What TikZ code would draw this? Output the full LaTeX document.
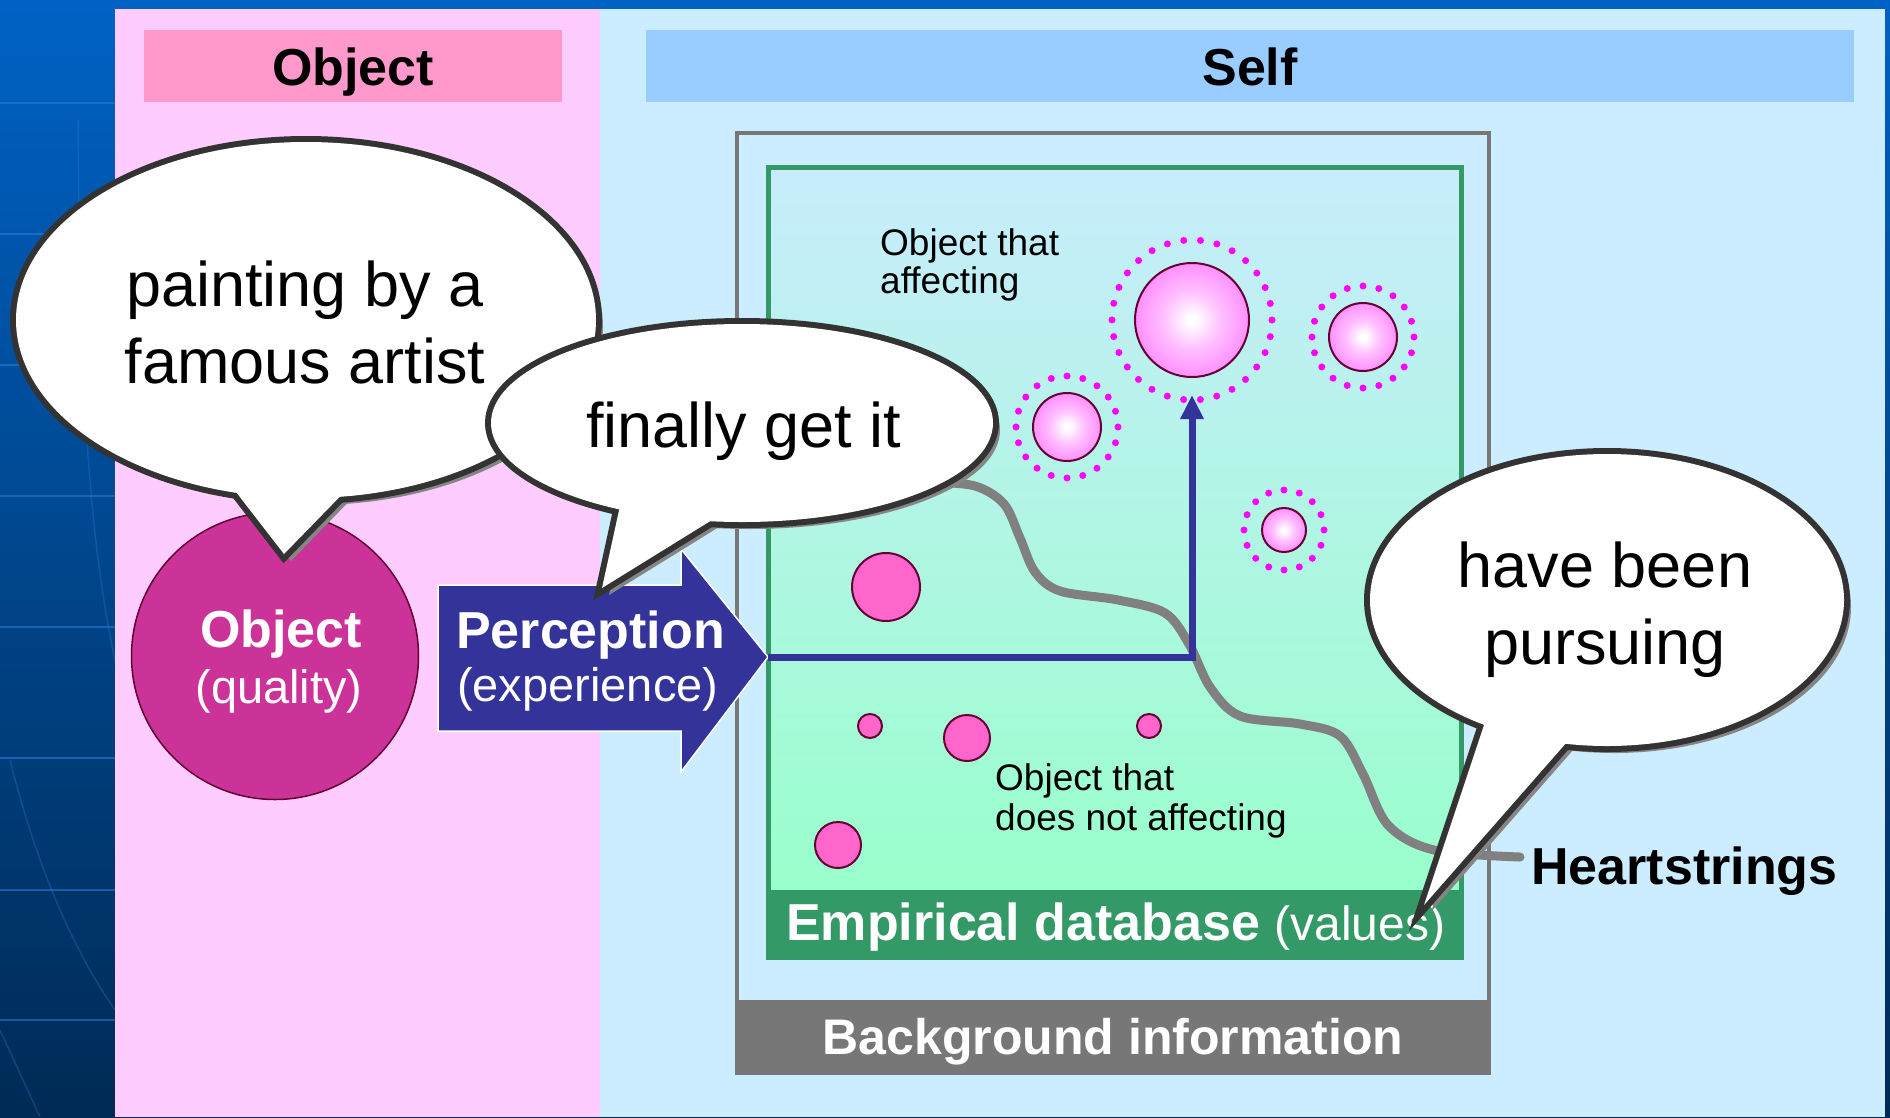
\documentclass[tikz,border=0pt]{standalone}
\usepackage{fontspec}
\setmainfont{Liberation Sans}
\usetikzlibrary{arrows.meta}

\definecolor{bgtop}{HTML}{0062C4}
\definecolor{bgbot}{HTML}{002A55}
\definecolor{gridblue}{HTML}{2A80DA}
\definecolor{objpanel}{HTML}{FFCCFF}
\definecolor{selfpanel}{HTML}{CCECFF}
\definecolor{hdrpink}{HTML}{FF99CC}
\definecolor{hdrblue}{HTML}{99CCFF}
\definecolor{dbgreen}{HTML}{339966}
\definecolor{bggray}{HTML}{777777}
\definecolor{percblue}{HTML}{333399}
\definecolor{objmag}{HTML}{CC3399}
\definecolor{dotmag}{HTML}{FF00FF}
\definecolor{solidpink}{HTML}{FF66CC}
\definecolor{ringpinkA}{HTML}{FFBEFF}
\definecolor{ringpinkM}{HTML}{FF7CFF}
\definecolor{ringpinkB}{HTML}{FF48FF}
\definecolor{edgedark}{HTML}{660033}
\definecolor{mintgreen}{HTML}{99FFCC}
\definecolor{paleblue}{HTML}{C8ECFC}
\definecolor{bubdark}{HTML}{333333}
\definecolor{bubshade}{HTML}{858585}
\definecolor{stringgray}{HTML}{808080}

\pgfdeclareradialshading{glossypink}{\pgfpoint{0bp}{0bp}}{%
  color(0bp)=(white); color(2bp)=(white); color(13bp)=(ringpinkA);
  color(30bp)=(ringpinkM); color(50bp)=(ringpinkB); color(100bp)=(ringpinkB)}

% speech bubble: centre, x radius, y radius, inner base 1, tip, inner base 2
\newcommand{\speechbubble}[6]{%
  \begin{scope}[shift={(7,7)}]
    \fill[bubshade] #1 ellipse[x radius=#2, y radius=#3];
    \fill[bubshade] #4 -- #5 -- #6 -- cycle;
  \end{scope}
  \draw[draw=bubdark, line width=12pt] #1 ellipse[x radius=#2, y radius=#3];
  \draw[draw=bubdark, line width=12pt, line join=miter, miter limit=20] #4 -- #5 -- #6;
  \fill[white] #1 ellipse[x radius=#2, y radius=#3];
  \fill[white] #4 -- #5 -- #6 -- cycle;
}

\tikzset{
  boldtext/.style={font=\fontsize{52}{60}\selectfont\bfseries, inner sep=0pt},
  plaintext/.style={font=\fontsize{47}{55}\selectfont, inner sep=0pt},
  bubtext/.style={font=\fontsize{63}{76}\selectfont, inner sep=0pt, anchor=base},
  smalltext/.style={font=\fontsize{37}{44}\selectfont, inner sep=0pt, anchor=base west},
  dotring/.style={draw=dotmag, line width=7pt, line cap=round},
  glossy/.style={shading=glossypink, draw=edgedark, line width=2pt},
  plainball/.style={fill=solidpink, draw=edgedark, line width=2pt},
  gridline/.style={draw=gridblue, line width=2pt, opacity=0.55},
  bluelink/.style={draw=percblue, line width=7pt},
}

\begin{document}
\begin{tikzpicture}[x=1pt,y=-1pt]
\useasboundingbox (0,0) rectangle (1890,1117);

% backdrop and the faint grid on the left margin
\shade[top color=bgtop, bottom color=bgbot] (0,0) rectangle (1890,1117);
\foreach \gy in {103,234,365,496,627,758,890,1020}
  \draw[gridline] (0,\gy) -- (115,\gy);
\draw[gridline, line width=1.5pt, opacity=0.3] (78,120) .. controls (80,350) and (85,520) .. (115,660);
\draw[gridline, line width=1.5pt, opacity=0.3] (10,760) .. controls (40,880) and (80,960) .. (115,1010);
\draw[gridline, line width=1.5pt, opacity=0.3] (0,1030) -- (40,1117);

% two panels
\fill[objpanel] (115,9) rectangle (600,1117);
\fill[selfpanel] (600,9) rectangle (1885,1117);

% headers
\fill[hdrpink] (144,30) rectangle (562,102);
\node[boldtext, anchor=base] (hobj) at (353,85) {Object};
\fill[hdrblue] (646,30) rectangle (1854,102);
\node[boldtext, anchor=base] (hself) at (1250,85) {Self};

% background information frame
\draw[bggray, line width=4pt] (737,133) rectangle (1489,1073);
\fill[bggray] (737,1000) rectangle (1489,1073);
\node[boldtext, font=\fontsize{50}{58}\selectfont\bfseries, text=white, anchor=base] (bginfo) at (1113,1054) {Background information};

% empirical database
\shade[top color=paleblue, bottom color=mintgreen] (768,167) rectangle (1461,890);
\fill[dbgreen] (768,890) rectangle (1461,957);
\draw[dbgreen, line width=5pt] (768,167) rectangle (1461,957);
\node[inner sep=0pt, anchor=base west, text=white] (empdb) at (786,940)
  {\fontsize{52}{60}\selectfont\bfseries Empirical database {\fontsize{48}{56}\selectfont\mdseries(values)}};

% objects that affect: glossy balls with dotted halos
\draw[dotring, dash pattern=on 0pt off 16.76pt] (1192,320) circle[radius=80];
\shadedraw[glossy] (1192,320) circle[radius=57];
\draw[dotring, dash pattern=on 0pt off 16.02pt] (1363,337) circle[radius=51];
\shadedraw[glossy] (1363,337) circle[radius=34];
\draw[dotring, dash pattern=on 0pt off 16.02pt] (1067,427) circle[radius=51];
\shadedraw[glossy] (1067,427) circle[radius=34];
\draw[dotring, dash pattern=on 0pt off 15.7pt] (1284,530) circle[radius=40];
\shadedraw[glossy] (1284,530) circle[radius=22];

% objects that do not affect
\draw[plainball] (886,587) circle[radius=34];
\draw[plainball] (870,726) circle[radius=12];
\draw[plainball] (967,738) circle[radius=23];
\draw[plainball] (1149,726) circle[radius=12];
\draw[plainball] (838,845) circle[radius=23];

\node[smalltext] (aff1) at (880,255) {Object that};
\node[smalltext] (aff2) at (880,293) {affecting};
\node[smalltext] (naff1) at (995,790) {Object that};
\node[smalltext] (naff2) at (995,830) {does not affecting};

% heartstrings
\coordinate (hsend) at (1520,857);
\draw[stringgray, line width=9pt, line cap=round] plot[smooth, tension=0.55] coordinates {
  (930,482) (975,486) (1004,504) (1020,538) (1035,572) (1060,591) (1118,600)
  (1165,613) (1189,644) (1210,687) (1240,716) (1300,724) (1340,736) (1363,774)
  (1388,825) (1434,850) (1520,857)};
\node[boldtext, anchor=base west] (hslabel) at (1531,884) {Heartstrings};

% perception arrow and its link into the database
\fill[percblue, draw=white, line width=1.5pt]
  (438,585) -- (681,585) -- (681,549) -- (768,657) -- (681,772) -- (681,731) -- (438,731) -- cycle;
\coordinate (ptip) at (768,657);
\coordinate (bend) at (1192,657);
\coordinate (bigball) at (1192,395);
\draw[bluelink, -{Triangle[length=24pt,width=22pt]}] (ptip) -- (bend) -- (bigball);
\node[boldtext, text=white, anchor=base west] (perc) at (456,648) {Perception};
\node[plaintext, text=white, anchor=base west] (exper) at (457,701) {(experience)};

% the object
\node[circle, fill=objmag, draw=edgedark, line width=1.5pt, minimum size=287pt, inner sep=0pt] (objc) at (275,656) {};
\node[boldtext, text=white, anchor=base] (objt) at (281,647) {Object};
\node[plaintext, text=white, anchor=base] (qual) at (279,703) {(quality)};

% speech bubbles
\speechbubble{(306,320)}{290}{178}{(219,470)}{(284,554)}{(360,476)}
\node[bubtext] (paint1) at (305,306) {painting by a};
\node[bubtext] (paint2) at (305,383) {famous artist};

\speechbubble{(742,423)}{251}{99}{(625,483)}{(602,588)}{(733,507)}
\node[bubtext] (final) at (744,447) {finally get it};

\speechbubble{(1607,600)}{237}{146}{(1492,701)}{(1424,905)}{(1581,726)}
\node[bubtext] (pursue1) at (1605,587) {have been};
\node[bubtext] (pursue2) at (1605,664) {pursuing};
\end{tikzpicture}
\end{document}
